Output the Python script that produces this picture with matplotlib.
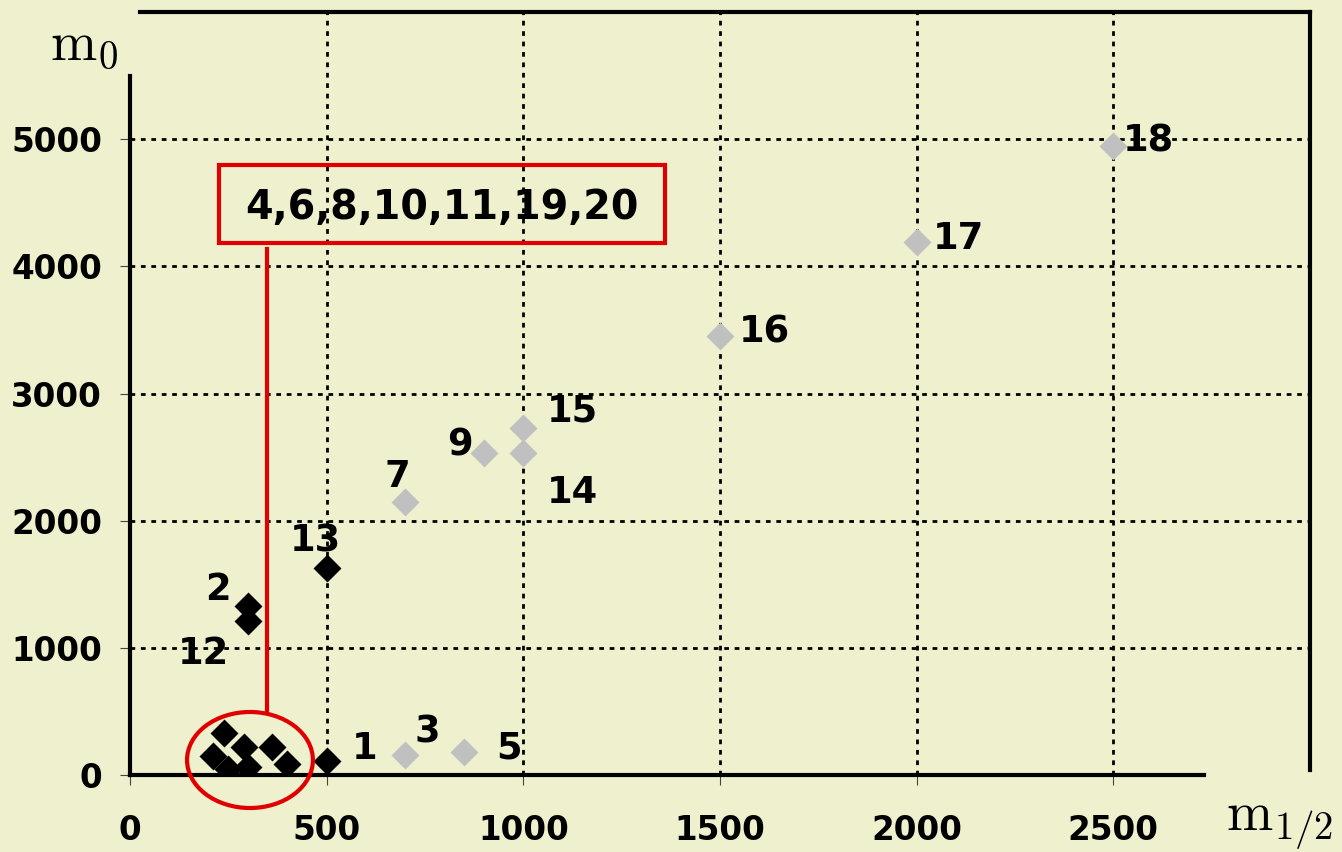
import matplotlib

matplotlib.use("Agg")
import matplotlib.pyplot as plt
from matplotlib.patches import Ellipse, Rectangle

# benchmark points (m_1/2, m_0); cluster points share the boxed label
black_m12 = [500, 300, 300, 500, 240, 210, 250, 290, 300, 360, 400]
black_m0 = [110, 1330, 1210, 1630, 330, 150, 50, 220, 60, 220, 90]
black_labels = ["1", "2", "12", "13", "", "", "", "", "", "", ""]

gray_m12 = [700, 850, 700, 900, 1000, 1000, 1500, 2000, 2500]
gray_m0 = [160, 180, 2150, 2530, 2530, 2730, 3450, 4190, 4950]
gray_labels = ["3", "5", "7", "9", "14", "15", "16", "17", "18"]

cluster_text = "4,6,8,10,11,19,20"

x_ticks = [0, 500, 1000, 1500, 2000, 2500]
y_ticks = [0, 1000, 2000, 3000, 4000, 5000]

# label offsets in points
offsets = {
    "1": (27, 9), "2": (-22, 12), "12": (-32, -23), "13": (-8, 19),
    "3": (16, 16), "5": (32, 3), "7": (-6, 18), "9": (-17, 6),
    "14": (35, -28), "15": (35, 12), "16": (32, 3), "17": (30, 3),
    "18": (25, 3),
}

bg = "#EFF0CD"
red = "#E00000"
W, H = 1342, 852

plt.rcParams["mathtext.fontset"] = "cm"

fig = plt.figure(figsize=(W / 100, H / 100), dpi=100, facecolor=bg)
ax = fig.add_axes([130 / W, 77 / H, 1180 / W, 763 / H])
ax.set_facecolor(bg)
ax.set_xlim(0, 3000)
ax.set_ylim(0, 6000)

for side in ax.spines.values():
    side.set_linewidth(3)
    side.set_color("black")
ax.spines["left"].set_bounds(0, 5500)
ax.spines["bottom"].set_bounds(0, 2730)
ax.spines["top"].set_bounds(25, 3000)
ax.spines["right"].set_bounds(40, 6000)

ax.set_xticks(x_ticks)
ax.set_yticks(y_ticks)
ax.tick_params(direction="out", length=7, width=0.8, color="#444444",
               labelsize=23.5, pad=13)
ax.tick_params(axis="x", pad=21)
for lab in ax.get_xticklabels() + ax.get_yticklabels():
    lab.set_fontweight("bold")
    lab.set_fontfamily("DejaVu Sans")

ax.grid(True, color="black", linestyle=(0, (1.7, 2.05)), linewidth=2, zorder=0)
ax.set_axisbelow(True)
ax.xaxis.get_gridlines()[0].set_visible(False)
ax.yaxis.get_gridlines()[0].set_visible(False)

ax.plot(black_m12, black_m0, linestyle="none", marker="D", markersize=14,
        color="black", markeredgecolor="none", zorder=3)
ax.plot(gray_m12, gray_m0, linestyle="none", marker="D", markersize=14,
        color="#C0C0C0", markeredgecolor="none", zorder=3)

for xs, ys, labs in ((black_m12, black_m0, black_labels),
                     (gray_m12, gray_m0, gray_labels)):
    for x, y, lab in zip(xs, ys, labs):
        if not lab:
            continue
        ax.annotate(lab, (x, y), xytext=offsets[lab], textcoords="offset points",
                    ha="center", va="center", fontsize=26.5, fontweight="bold",
                    fontfamily="DejaVu Sans", zorder=4)

# callout for the clustered points
ax.add_patch(Rectangle((226, 4182), 1133, 614, fill=False, edgecolor=red,
                       linewidth=3, zorder=4, clip_on=False))
ax.text(792, 4455, cluster_text, ha="center", va="center", fontsize=28.5,
        fontweight="bold", fontfamily="DejaVu Sans", zorder=5)
ax.plot([349, 349], [495, 4140], color=red, linewidth=3, zorder=4)
ax.add_patch(Ellipse((305, 118), 320, 755, fill=False, edgecolor=red,
                     linewidth=3, zorder=4, clip_on=False))

fig.text(84 / W, 1 - 45 / H, r"$\mathrm{m}_0$", ha="center", va="center",
         fontsize=40)
fig.text(1280 / W, 1 - 825 / H, r"$\mathrm{m}_{1/2}$", ha="center",
         va="center", fontsize=40)

fig.savefig("out.png", dpi=100, facecolor=bg)
